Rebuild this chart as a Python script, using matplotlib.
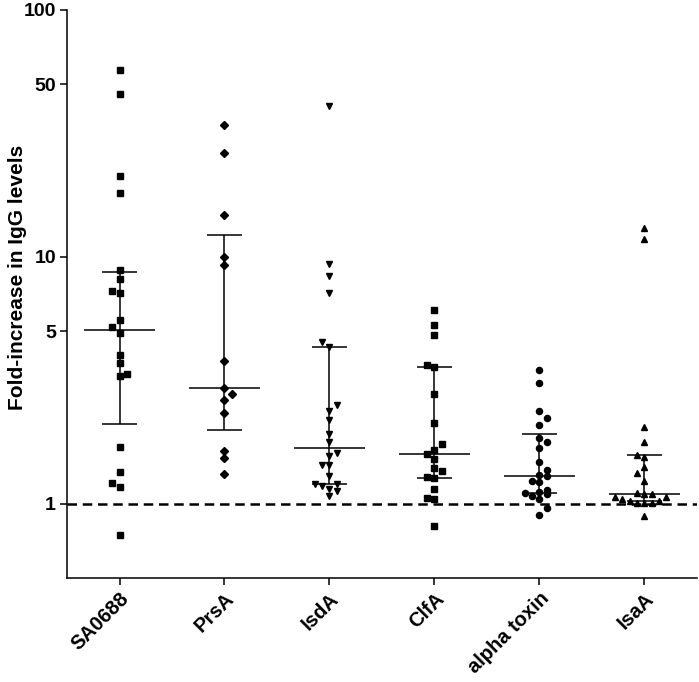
import matplotlib
matplotlib.use("Agg")
import matplotlib.pyplot as plt
from matplotlib.ticker import FixedLocator, FixedFormatter, NullLocator

plt.rcParams['font.family'] = ['Liberation Sans', 'DejaVu Sans']

antigens = ["SA0688", "PrsA", "IsdA", "ClfA", "alpha toxin", "IsaA"]
markers = ['s', 'D', 'v', 's', 'o', '^']
msizes = [4.6, 3.8, 4.4, 4.3, 4.4, 4.4]

# fold-increase per subject
sa0688 = [57.0, 45.5, 21.2, 18.2, 8.86, 8.13, 7.26, 7.14, 5.56, 5.20,
          4.93, 4.01, 3.72, 3.34, 3.29, 1.70, 1.34, 1.21, 1.17, 0.744]
prsa = [34.2, 26.3, 14.7, 9.94, 9.22, 3.79, 2.93, 2.78, 2.64, 2.34,
        1.64, 1.53, 1.32]
isda = [40.7, 9.37, 8.35, 7.15, 4.50, 4.31, 2.52, 2.37, 2.18, 1.92, 1.77,
        1.61, 1.56, 1.43, 1.43, 1.29, 1.205, 1.18, 1.205, 1.15, 1.13, 1.07]
clfa = [6.08, 5.27, 4.83, 3.64, 3.57, 2.77, 2.13, 1.75, 1.65, 1.59,
        1.51, 1.39, 1.35, 1.28, 1.27, 1.15, 1.05, 1.04, 0.812]
alpha = [3.47, 3.07, 2.37, 2.22, 2.08, 1.85, 1.77, 1.68, 1.48, 1.37, 1.31,
         1.30, 1.23, 1.22, 1.14, 1.12, 1.10, 1.09, 1.07, 1.04, 0.957, 0.90]
isaa = [13.1, 11.8, 2.04, 1.78, 1.58, 1.55, 1.41, 1.33, 1.24, 1.10, 1.09,
        1.09, 1.067, 1.067, 1.04, 1.03, 1.03, 1.01, 1.01, 1.01, 0.889]

# horizontal spread of points (in marker steps), as in the scatter
sa0688_off = [0, 0, 0, 0, 0, 0, -1, 0, 0, -1, 0, 0, 0, 1, 0, 0, 0, -1, 0, 0]
prsa_off = [0, 0, 0, 0, 0, 0, 0, 1, 0, 0, 0, 0, 0]
isda_off = [0, 0, 0, 0, -1, 0, 1, 0, 0, 0, 0, 1, 0, -1, 0, 0, -2, -1, 1, 0, 1, 0]
clfa_off = [0, 0, 0, -1, 0, 0, 0, 1, 0, -1, 0, 0, 1, -1, 0, 0, -1, 0, 0]
alpha_off = [0, 0, 0, 1, 0, 0, 1, 0, 0, 1, 0, 1, -1, 0, 1, 0, -2, 1, -1, 0, 1, 0]
isaa_off = [0, 0, 0, 0, -1, 0, 0, -1, 0, -1, 0, 1, -4, 3, -3, -2, 2, -1, 0, 1, 0]

# median with interquartile range
medians = [5.05, 2.93, 1.675, 1.59, 1.30, 1.09]
q1 = [2.10, 1.98, 1.205, 1.27, 1.10, 1.03]
q3 = [8.69, 12.3, 4.31, 3.57, 1.91, 1.57]

groups = [sa0688, prsa, isda, clfa, alpha, isaa]
offsets = [sa0688_off, prsa_off, isda_off, clfa_off, alpha_off, isaa_off]

fig = plt.figure(figsize=(6.99, 6.82), dpi=100)
ax = fig.add_axes([0.0959, 0.1525, 0.901, 0.833])

step = 0.07
for i, (vals, offs) in enumerate(zip(groups, offsets)):
    xs = [i + o * step for o in offs]
    ax.plot(xs, vals, linestyle='none', marker=markers[i], ms=msizes[i],
            color='black', zorder=3)
    ax.vlines(i, q1[i], q3[i], color='black', lw=1.1, zorder=2)
    ax.hlines(medians[i], i - 0.34, i + 0.34, color='black', lw=1.1, zorder=2)
    ax.hlines([q1[i], q3[i]], i - 0.17, i + 0.17, color='black', lw=1.1, zorder=2)

ax.axhline(1, color='black', lw=1.8, ls=(0, (3.8, 2.3)), zorder=1)

ax.set_yscale('log')
ax.set_ylim(0.5, 100)
ax.set_xlim(-0.5, 5.5)
ax.yaxis.set_major_locator(FixedLocator([1, 5, 10, 50, 100]))
ax.yaxis.set_major_formatter(FixedFormatter(['1', '5', '10', '50', '100']))
ax.yaxis.set_minor_locator(NullLocator())

ax.set_xticks(range(len(antigens)))
ax.set_xticklabels(antigens, rotation=45, ha='right', rotation_mode='anchor',
                   fontsize=14.5, fontweight='bold')
for lab in ax.get_yticklabels():
    lab.set_fontsize(14)
    lab.set_fontweight('bold')

ax.set_ylabel("Fold-increase in IgG levels", fontsize=15, fontweight='bold')
ax.yaxis.set_label_coords(-0.064, 0.53)

for s in ['top', 'right']:
    ax.spines[s].set_visible(False)
for s in ['left', 'bottom']:
    ax.spines[s].set_linewidth(1.1)
ax.tick_params(axis='both', direction='out', length=5, width=1.1, colors='black')
ax.tick_params(axis='x', pad=3)
ax.tick_params(axis='y', pad=3)

fig.savefig("out.png", dpi=100)
